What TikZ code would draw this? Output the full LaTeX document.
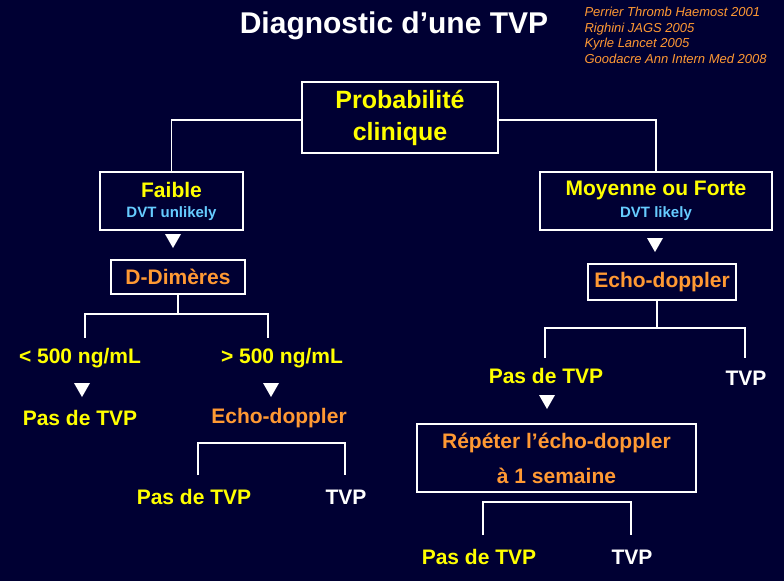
\documentclass[tikz,border=0pt]{standalone}
\usepackage{fontspec}
\setmainfont{Liberation Sans}
\usetikzlibrary{calc,positioning}
\definecolor{bgblue}{HTML}{000033}
\definecolor{txtyellow}{HTML}{FFFF00}
\definecolor{txtorange}{HTML}{FF9933}
\definecolor{txtblue}{HTML}{66CCFF}
\tikzset{
  box/.style={draw=white,line width=1.3pt},
  yel/.style={text=txtyellow,font=\bfseries\fontsize{21}{24}\selectfont},
  ora/.style={text=txtorange,font=\bfseries\fontsize{21}{24}\selectfont},
  wht/.style={text=white,font=\bfseries\fontsize{21}{24}\selectfont},
  link/.style={draw=white,line width=1.3pt},
  tri/.style={fill=white}
}
\newcommand{\downtri}[1]{\fill[tri] ($(#1)+(-8,-7)$) -- ($(#1)+(8,-7)$) -- ($(#1)+(0,7)$) -- cycle;}
\begin{document}
\begin{tikzpicture}[x=1pt,y=-1pt]
  \useasboundingbox[fill=bgblue] (0,0) rectangle (784,581);
  %title
  \node[text=white,font=\bfseries\fontsize{30}{34}\selectfont] (title) at (394,26) {Diagnostic d’une TVP};
  \node[text=txtorange,font=\itshape\fontsize{13}{15.5}\selectfont,align=left,anchor=north west] (refs) at (581,4)
    {Perrier Thromb Haemost 2001\\Righini JAGS 2005\\Kyrle Lancet 2005\\Goodacre Ann Intern Med 2008};
  %root
  \node[box,minimum width=196pt,minimum height=71pt] (proba) at (400,117.5) {};
  \node[yel,align=center,font=\bfseries\fontsize{25}{32}\selectfont] at (proba) {Probabilité\\clinique};
  %left branch
  \node[box,minimum width=143pt,minimum height=58pt] (faible) at (171.5,201) {};
  \node[yel,align=center] at ($(faible)+(0,-11)$) {Faible};
  \node[text=txtblue,font=\bfseries\fontsize{15}{18}\selectfont] at ($(faible)+(0,13)$) {DVT unlikely};
  \coordinate (t1) at (173,241); \downtri{t1}
  \node[box,ora,minimum width=134pt,minimum height=34pt] (ddim) at (178,277) {D-Dimères};
  \node[yel] (inf) at (80,358) {< 500 ng/mL};
  \node[yel] (sup) at (282,358) {> 500 ng/mL};
  \coordinate (t2) at (82,390); \downtri{t2}
  \coordinate (t3) at (271,390); \downtri{t3}
  \node[yel] (pas1) at (80,418) {Pas de TVP};
  \node[ora] (echo1) at (279,418) {Echo-doppler};
  \node[yel] (pas2) at (194,497) {Pas de TVP};
  \node[wht] (tvp1) at (346,497) {TVP};
  %right branch
  \node[box,minimum width=232pt,minimum height=58pt] (moyen) at (656,201) {};
  \node[yel,align=center] at ($(moyen)+(0,-11)$) {Moyenne ou Forte};
  \node[text=txtblue,font=\bfseries\fontsize{15}{18}\selectfont] at ($(moyen)+(0,13)$) {DVT likely};
  \coordinate (t4) at (655,245); \downtri{t4}
  \node[box,ora,minimum width=148pt,minimum height=36pt] (echo2) at (662,282) {Echo-doppler};
  \node[yel] (pas3) at (546,376) {Pas de TVP};
  \node[wht] (tvp2) at (746,378) {TVP};
  \coordinate (t5) at (547,402); \downtri{t5}
  \node[box,minimum width=279pt,minimum height=68pt] (repet) at (556.5,458) {};
  \node[ora,align=center,font=\bfseries\fontsize{21}{35}\selectfont] at (repet) {Répéter l’écho-doppler\\à 1 semaine};
  \node[yel] (pas4) at (479,557) {Pas de TVP};
  \node[wht] (tvp3) at (632,557) {TVP};
  %connectors
  \draw[link] (proba.west |- 0,120) -| (faible.north);
  \draw[link] (proba.east |- 0,120) -| (moyen.north);
  \draw[link] (ddim.south) -- (178,314) coordinate (j1);
  \draw[link] (85,338) |- (268,314) -- (268,338);
  \draw[link] (198,475) |- (345,443) -- (345,475);
  \draw[link] (echo2.south -| 657,0) -- (657,328);
  \draw[link] (545,358) |- (745,328) -- (745,358);
  \draw[link] (483,535) |- (631,502) -- (631,535);
\end{tikzpicture}
\end{document}
